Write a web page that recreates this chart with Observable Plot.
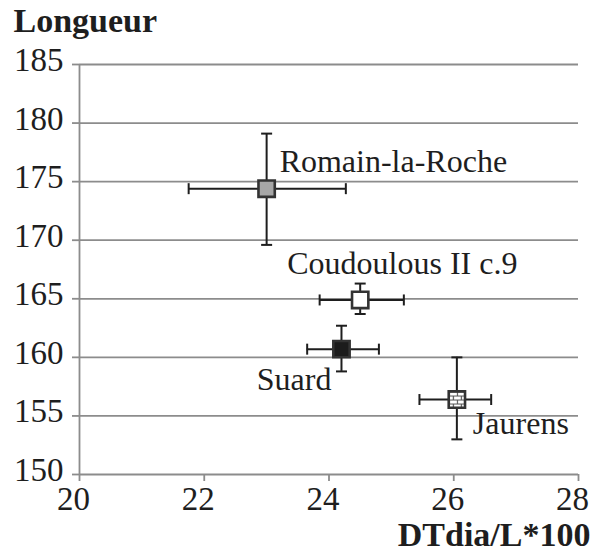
<!DOCTYPE html>
<html><head><meta charset="utf-8">
<script src="https://cdn.jsdelivr.net/npm/d3@7"></script>
<script src="https://cdn.jsdelivr.net/npm/@observablehq/plot@0.6"></script>
<style>
body{margin:0;background:#fff}
</style>
</head><body><div id="chart"></div>
<script>
// Data
const sites = ["Romain-la-Roche", "Coudoulous II c.9", "Suard", "Jaurens"];
const xMean = [23.0, 24.5, 24.2, 26.05];
const xLow  = [21.75, 23.85, 23.65, 25.45];
const xHigh = [24.27, 25.2, 24.8, 26.6];
const yMean = [174.4, 164.9, 160.7, 156.4];
const yLow  = [169.6, 163.7, 158.8, 153.0];
const yHigh = [179.1, 166.3, 162.7, 160.0];
const xTicks = [20, 22, 24, 26, 28];
const yTicks = [150, 155, 160, 165, 170, 175, 180, 185];
const xTitle = "DTdia/L*100";
const yTitle = "Longueur";

// Styles
const fillColors = ["#a6a6a6", "#ffffff", "#1c1c1c", "url(#brick)"];
const gridColor = "#8c8c8c";
const ink = "#1e1e1e";
const serif = "Liberation Serif, Tinos, Times New Roman, DejaVu Serif, serif";

const data = sites.map((s, i) => ({
  site: s, x: xMean[i], xlo: xLow[i], xhi: xHigh[i],
  y: yMean[i], ylo: yLow[i], yhi: yHigh[i]
}));

const vcap = {draw(ctx, size) { const r = Math.sqrt(size / Math.PI); ctx.moveTo(0, -r); ctx.lineTo(0, r); }};
const hcap = {draw(ctx, size) { const r = Math.sqrt(size / Math.PI); ctx.moveTo(-r, 0); ctx.lineTo(r, 0); }};

const lab = (i, opts) => Plot.text(data.filter(d => d.site === sites[i]),
  {x: "x", y: "y", text: "site", lineAnchor: "bottom", fontSize: 32, fontFamily: serif, fill: ink, ...opts});

const chart = Plot.plot({
  width: 592, height: 552,
  marginLeft: 79, marginRight: 14, marginTop: 64, marginBottom: 78,
  style: {fontSize: "33px", background: "white", color: ink, overflow: "visible"},
  x: {domain: [20, 28]},
  y: {domain: [150, 185]},
  color: {type: "ordinal", domain: sites, range: fillColors},
  marks: [
    Plot.ruleY(yTicks, {stroke: gridColor, strokeWidth: 1.8}),
    Plot.ruleX([20], {stroke: gridColor, strokeWidth: 1.8}),
    // tick marks
    Plot.axisY({ticks: yTicks, tickSize: 7, tickFormat: () => "", label: null, stroke: gridColor, strokeWidth: 1.8, strokeOpacity: 1}),
    Plot.axisX({ticks: xTicks, tickSize: 7, tickFormat: () => "", label: null, stroke: gridColor, strokeWidth: 1.8, strokeOpacity: 1}),
    // tick labels
    Plot.axisY({ticks: yTicks, tickSize: 0, tickPadding: 16, dy: -4, label: null, fill: ink, fontFamily: serif, fontSize: 33}),
    Plot.axisX({ticks: xTicks, tickSize: 0, tickPadding: 12, dx: -6, label: null, fill: ink, fontFamily: serif, fontSize: 33}),
    // error bars
    Plot.ruleY(data, {y: "y", x1: "xlo", x2: "xhi", stroke: ink, strokeWidth: 2}),
    Plot.ruleX(data, {x: "x", y1: "ylo", y2: "yhi", stroke: ink, strokeWidth: 2}),
    Plot.dot(data, {x: "xlo", y: "y", symbol: vcap, r: 5.5, stroke: ink, strokeWidth: 2}),
    Plot.dot(data, {x: "xhi", y: "y", symbol: vcap, r: 5.5, stroke: ink, strokeWidth: 2}),
    Plot.dot(data, {x: "x", y: "ylo", symbol: hcap, r: 5.5, stroke: ink, strokeWidth: 2}),
    Plot.dot(data, {x: "x", y: "yhi", symbol: hcap, r: 5.5, stroke: ink, strokeWidth: 2}),
    // markers
    Plot.dot(data, {x: "x", y: "y", symbol: "square", r: 9.2, fill: "site", stroke: "#333", strokeWidth: 2.6}),
    // labels
    lab(0, {textAnchor: "start", dx: 13, dy: -17}),
    lab(1, {textAnchor: "start", dx: -73, dy: -26}),
    lab(2, {textAnchor: "end", dx: -10, dy: 41}),
    lab(3, {textAnchor: "start", dx: 16, dy: 34}),
    // axis titles
    Plot.text([yTitle], {frameAnchor: "top-left", textAnchor: "start", lineAnchor: "bottom", dx: -66, dy: -33, fontWeight: "bold", fontSize: 34, fontFamily: serif, fill: ink}),
    Plot.text([xTitle], {frameAnchor: "bottom-right", textAnchor: "end", lineAnchor: "bottom", dx: 12, dy: 71, fontWeight: "bold", fontSize: 34, fontFamily: serif, fill: ink})
  ]
});

const defs = document.createElementNS("http://www.w3.org/2000/svg", "defs");
defs.innerHTML = '<pattern id="brick" patternUnits="userSpaceOnUse" width="8" height="8">' +
  '<rect width="8" height="8" fill="#fff"/>' +
  '<path d="M0 0.5H8M0 4.5H8M0.5 0V4M4.5 4V8" stroke="#555" stroke-width="1.2" fill="none"/></pattern>';
chart.insertBefore(defs, chart.firstChild);
document.getElementById("chart").appendChild(chart);
</script>
</body></html>
